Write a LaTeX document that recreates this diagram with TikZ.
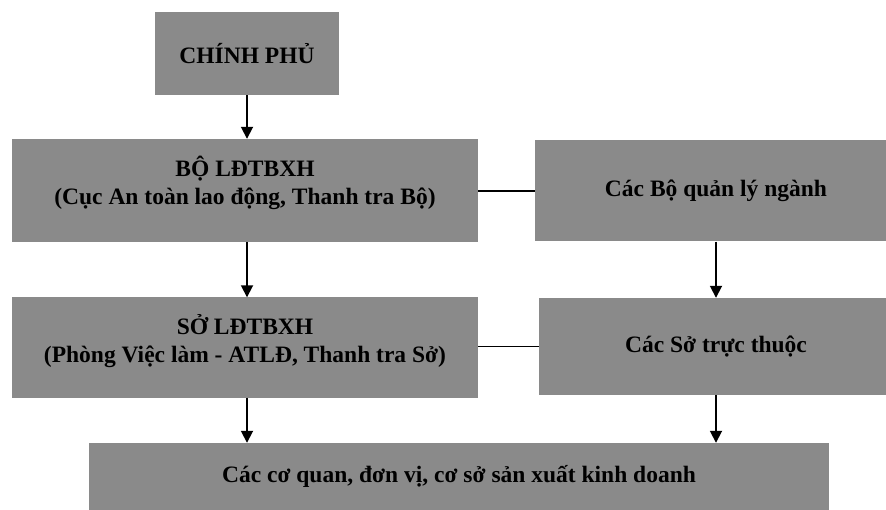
\documentclass[tikz,border=0pt]{standalone}
\usepackage{fontspec}
\setmainfont{Liberation Serif}
\usetikzlibrary{arrows.meta}
\definecolor{boxgray}{RGB}{138,138,138}
\tikzset{
  box/.style={fill=boxgray, draw=none, inner sep=0pt, minimum width=#1},
  lbl/.style={font=\fontsize{23.5}{28}\selectfont\bfseries, align=center, inner sep=0pt},
  down/.style={-{Triangle[width=12pt,length=12pt]}, line width=1.8pt},
  link/.style={line width=1.4pt}
}
\begin{document}
\begin{tikzpicture}[x=1pt,y=-1pt]
\useasboundingbox (0,0) rectangle (886,510);
\clip (0,0) rectangle (886,510);

% government
\node[box=184pt, minimum height=83pt] (cp) at (247,53.5) {};
\node[lbl] (cpt) at (cp.center) {CHÍNH PHỦ};

% ministry of labour
\node[box=466pt, minimum height=103pt] (bo) at (245,190.5) {};
\node[lbl] (bot) at ([yshift=8pt]bo.center) {BỘ LĐTBXH\\(Cục An toàn lao động, Thanh tra Bộ)};

% sector ministries
\node[box=362pt, minimum height=101pt] (cb) at (716,191) {};
\node[lbl] (cbt) at (cb.center) {Các Bộ quản lý ngành};

% provincial department
\node[box=466pt, minimum height=100pt] (so) at (245,347.5) {};
\node[lbl] (sot) at ([yshift=6pt]so.center) {SỞ LĐTBXH\\(Phòng Việc làm - ATLĐ, Thanh tra Sở)};

% subordinate departments
\node[box=354pt, minimum height=97pt] (cs) at (716,346.5) {};
\node[lbl] (cst) at (cs.center) {Các Sở trực thuộc};

% enterprises
\node[box=740pt, minimum height=69pt] (dn) at (459,477.5) {};
\node[lbl] (dnt) at ([yshift=1pt]dn.center) {Các cơ quan, đơn vị, cơ sở sản xuất kinh doanh};

% connectors
\draw[down] (cp.south) -- (cp.south |- bo.north);
\draw[down] (cp.south |- bo.south) -- (cp.south |- so.north);
\draw[down] (cp.south |- so.south) -- (cp.south |- dn.north);
\draw[down] (cb.south) -- (cs.north);
\draw[down] (cs.south) -- (cs.south |- dn.north);
\draw[link] (bo.east |- cb.west) -- (cb.west);
\draw[link] (so.east |- cs.west) -- (cs.west);
\end{tikzpicture}
\end{document}
